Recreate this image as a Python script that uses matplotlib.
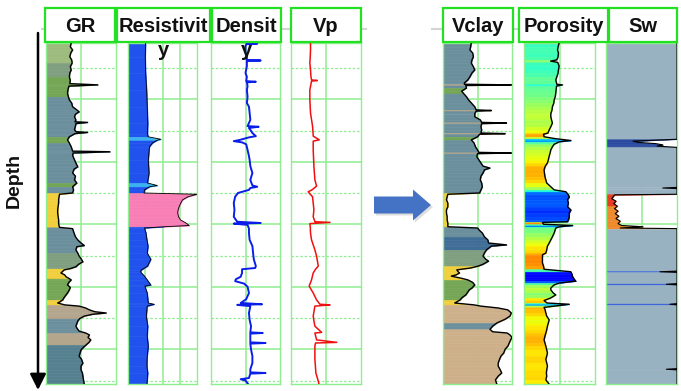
import numpy as np
import matplotlib.pyplot as plt
from matplotlib.patches import Rectangle, FancyArrow
from matplotlib.colors import ListedColormap
from matplotlib.ticker import NullLocator

plt.rcParams['font.family'] = ['Liberation Sans', 'DejaVu Sans']

W, H = 681, 391

# ---------------- data (depth in m) ----------------
gr_depth = [2010, 2016, 2021, 2026, 2032, 2037, 2042, 2048, 2053, 2058, 2064, 2070, 2075, 2077, 2079,
            2085, 2090, 2096, 2101, 2106, 2112, 2117, 2120, 2124, 2128, 2133, 2136, 2137, 2139, 2143,
            2149, 2152, 2153, 2155, 2157, 2160, 2165, 2170, 2176, 2181, 2183, 2184, 2186, 2190, 2197,
            2202, 2208, 2212, 2218, 2223, 2229, 2234, 2240, 2245, 2250, 2252, 2256, 2261, 2266, 2272,
            2277, 2282, 2288, 2293, 2298, 2303, 2305, 2307, 2314, 2320, 2325, 2330, 2334, 2336, 2341,
            2346, 2351, 2355, 2360, 2364, 2368, 2371, 2373, 2376, 2378, 2381, 2384, 2387, 2389, 2393,
            2397, 2401, 2405, 2410, 2413, 2418, 2421, 2424, 2426, 2429, 2431, 2434, 2437, 2440, 2442,
            2444, 2447, 2451, 2455, 2459, 2463, 2467, 2471, 2474, 2477, 2481, 2485, 2489, 2493, 2497,
            2501, 2506, 2511, 2516, 2522, 2527, 2533, 2538, 2543, 2548, 2556]
gr_val = [54, 52, 57, 53, 51, 55, 56, 52, 54, 51, 50, 52, 51, 111, 49,
          47, 46, 48, 50, 55, 57, 66, 71, 63, 61, 64, 62, 89, 64, 63,
          61, 65, 89, 62, 57, 50, 46, 50, 54, 56, 57, 137, 58, 57, 61,
          64, 68, 60, 57, 63, 61, 66, 57, 59, 57, 29, 28, 27, 27, 26,
          25, 25, 26, 27, 27, 28, 29, 57, 60, 63, 68, 75, 82, 66, 64,
          68, 71, 75, 79, 70, 64, 52, 39, 35, 32, 40, 43, 50, 54, 49,
          46, 52, 50, 46, 43, 38, 36, 30, 25, 40, 71, 85, 93, 105, 129,
          100, 82, 72, 68, 66, 64, 67, 71, 85, 93, 90, 96, 92, 86, 80,
          75, 73, 71, 76, 79, 75, 75, 78, 79, 80, 82]
gr_facies = [(2005, 2045, 'silt_l'), (2045, 2062, 'silt_d'), (2062, 2098, 'silt'), (2098, 2160, 'shale'),
             (2160, 2170, 'silt'), (2170, 2236, 'shale'), (2236, 2242, 'silt'), (2242, 2251, 'shale'),
             (2251, 2306, 'sand'), (2306, 2345, 'shale'), (2345, 2371, 'silt_d'), (2371, 2386, 'sand'),
             (2386, 2421, 'silt'), (2421, 2429, 'sand'), (2429, 2450, 'carb'), (2450, 2474, 'shale'),
             (2474, 2492, 'carb'), (2492, 2560, 'shale_d')]

res_depth = [2010, 2032, 2058, 2085, 2112, 2138, 2155, 2160, 2164, 2166, 2170, 2176, 2197, 2218, 2234,
             2238, 2240, 2245, 2250, 2252, 2256, 2261, 2266, 2272, 2277, 2282, 2288, 2293, 2298, 2302,
             2304, 2306, 2314, 2325, 2335, 2346, 2356, 2367, 2373, 2376, 2383, 2389, 2397, 2399, 2410,
             2426, 2428, 2431, 2447, 2463, 2479, 2495, 2511, 2527, 2538, 2556]
res_val = [2.1, 2.0, 2.1, 2.4, 2.6, 2.8, 2.7, 2.9, 16, 9, 5.2, 3.5, 3.0, 3.3, 2.7,
           10, 3.5, 1.8, 1.7, 2000, 600, 290, 230, 183, 160, 152, 170, 220, 460, 700,
           24, 1.8, 2.2, 2.5, 2.9, 2.6, 4.2, 2.7, 1.2, 1.05, 1.8, 2.6, 4.2, 1.9, 2.6,
           3.0, 6.6, 2.6, 2.3, 2.8, 2.6, 3.0, 2.6, 2.5, 2.8, 2.5]
res_facies = [(2005, 2160, 'res_lo'), (2160, 2168, 'res_mid'), (2168, 2236, 'res_lo'),
              (2236, 2242, 'res_mid'), (2242, 2251, 'res_lo'), (2251, 2305, 'res_hi'),
              (2305, 2560, 'res_lo')]

den_depth = [2010, 2011, 2012, 2016, 2026, 2032, 2037, 2038, 2039, 2047, 2058, 2064, 2071, 2072, 2073,
             2079, 2085, 2096, 2106, 2112, 2122, 2133, 2143, 2144, 2146, 2149, 2154, 2159, 2161, 2165,
             2167, 2169, 2172, 2181, 2191, 2197, 2207, 2218, 2229, 2238, 2240, 2242, 2245, 2250, 2256,
             2266, 2277, 2288, 2296, 2298, 2299, 2301, 2307, 2314, 2325, 2335, 2346, 2356, 2367, 2370,
             2372, 2378, 2384, 2388, 2391, 2395, 2400, 2410, 2420, 2426, 2428, 2429, 2431, 2442, 2453,
             2463, 2473, 2474, 2475, 2484, 2489, 2490, 2491, 2500, 2511, 2522, 2532, 2537, 2538, 2539,
             2546, 2548, 2550, 2556]
den_val = [2.47, 2.62, 2.46, 2.45, 2.45, 2.47, 2.47, 2.67, 2.47, 2.47, 2.45, 2.47, 2.46, 2.60, 2.47,
           2.48, 2.47, 2.48, 2.47, 2.50, 2.51, 2.52, 2.48, 2.64, 2.50, 2.52, 2.55, 2.60, 2.50, 2.37,
           2.28, 2.40, 2.46, 2.48, 2.50, 2.51, 2.52, 2.55, 2.52, 2.55, 2.62, 2.52, 2.50, 2.34, 2.30,
           2.28, 2.29, 2.28, 2.33, 2.67, 2.28, 2.48, 2.50, 2.50, 2.51, 2.55, 2.56, 2.57, 2.60, 2.59,
           2.40, 2.40, 2.38, 2.31, 2.30, 2.43, 2.48, 2.50, 2.46, 2.38, 2.69, 2.33, 2.52, 2.50, 2.51,
           2.53, 2.52, 2.70, 2.52, 2.52, 2.52, 2.74, 2.52, 2.53, 2.55, 2.55, 2.52, 2.52, 2.74, 2.52,
           2.50, 2.38, 2.45, 2.49]

vp_depth = [2010, 2021, 2032, 2042, 2053, 2064, 2069, 2070, 2071, 2085, 2101, 2122, 2143, 2154, 2159,
            2165, 2167, 2181, 2207, 2229, 2239, 2245, 2248, 2252, 2256, 2266, 2277, 2288, 2296, 2297,
            2299, 2304, 2314, 2325, 2341, 2351, 2367, 2372, 2378, 2389, 2399, 2410, 2421, 2428, 2429,
            2431, 2447, 2453, 2463, 2473, 2474, 2485, 2489, 2490, 2495, 2516, 2538, 2551, 2556]
vp_val = [3115, 3115, 3100, 3077, 3115, 3140, 3173, 3500, 3173, 3077, 3077, 3115, 3231, 3260, 3269,
          3615, 3269, 3269, 3308, 3365, 3462, 3200, 2981, 3100, 3231, 3269, 3308, 3269, 3365, 4231,
          3077, 3100, 3115, 3173, 3365, 3462, 3558, 3400, 3269, 3173, 3038, 3269, 3462, 3654, 4231,
          3365, 3269, 3300, 3365, 3750, 3365, 3462, 4615, 3400, 3365, 3365, 3423, 3558, 3600]

vcl_depth = [2010, 2016, 2021, 2026, 2032, 2037, 2042, 2048, 2053, 2058, 2064, 2069, 2074, 2076, 2077,
             2078, 2082, 2087, 2091, 2096, 2101, 2106, 2112, 2117, 2118, 2119, 2123, 2128, 2133, 2137,
             2138, 2139, 2144, 2149, 2154, 2155, 2156, 2160, 2165, 2170, 2176, 2181, 2185, 2186, 2187,
             2192, 2197, 2202, 2207, 2210, 2213, 2218, 2223, 2229, 2234, 2240, 2245, 2250, 2252, 2256,
             2261, 2266, 2272, 2277, 2282, 2288, 2293, 2298, 2304, 2306, 2310, 2314, 2320, 2325, 2330,
             2333, 2335, 2341, 2346, 2351, 2356, 2359, 2364, 2367, 2370, 2373, 2376, 2378, 2381, 2383,
             2386, 2389, 2393, 2397, 2402, 2405, 2410, 2413, 2418, 2421, 2424, 2426, 2429, 2431, 2434,
             2437, 2440, 2442, 2447, 2452, 2458, 2463, 2468, 2472, 2474, 2477, 2481, 2485, 2490, 2495,
             2500, 2506, 2511, 2516, 2522, 2527, 2533, 2538, 2543, 2549, 2556]
vcl_val = [0.41, 0.40, 0.39, 0.43, 0.44, 0.42, 0.41, 0.44, 0.46, 0.42, 0.39, 0.36, 0.31, 0.31, 0.99,
           0.33, 0.34, 0.27, 0.30, 0.34, 0.37, 0.41, 0.46, 0.48, 0.70, 0.48, 0.46, 0.46, 0.54, 0.56,
           0.92, 0.56, 0.55, 0.56, 0.55, 0.90, 0.53, 0.50, 0.41, 0.45, 0.47, 0.50, 0.52, 0.99, 0.50,
           0.49, 0.52, 0.55, 0.58, 0.68, 0.60, 0.58, 0.55, 0.54, 0.56, 0.57, 0.55, 0.53, 0.07, 0.06,
           0.05, 0.07, 0.07, 0.05, 0.05, 0.06, 0.06, 0.07, 0.07, 0.50, 0.53, 0.57, 0.60, 0.65, 0.66,
           0.92, 0.70, 0.63, 0.60, 0.58, 0.62, 0.66, 0.58, 0.51, 0.40, 0.20, 0.22, 0.24, 0.19, 0.12,
           0.25, 0.36, 0.43, 0.46, 0.42, 0.38, 0.35, 0.33, 0.27, 0.25, 0.20, 0.17, 0.45, 0.55, 0.80,
           0.94, 0.97, 0.99, 0.97, 0.90, 0.78, 0.72, 0.68, 0.72, 0.93, 0.97, 1.00, 0.98, 0.96, 0.94,
           0.90, 0.88, 0.84, 0.82, 0.80, 0.80, 0.83, 0.85, 0.80, 0.76, 0.78]
vcl_facies = [(2005, 2076, 'shale'), (2076, 2078, 'carb'), (2078, 2084, 'shale'), (2084, 2090, 'silt'),
              (2090, 2117, 'shale'), (2117, 2119, 'carb'), (2119, 2137, 'shale'), (2137, 2139, 'carb'),
              (2139, 2154, 'shale'), (2154, 2156, 'carb'), (2156, 2162, 'shale'), (2162, 2167, 'silt'),
              (2167, 2185, 'shale'), (2185, 2187, 'carb'), (2187, 2251, 'shale'), (2251, 2305, 'sand'),
              (2305, 2322, 'shale'), (2322, 2340, 'shale_b'), (2340, 2368, 'silt_d'), (2368, 2388, 'sand'),
              (2388, 2420, 'silt'), (2420, 2428, 'sand'), (2428, 2456, 'carb_l'), (2456, 2468, 'shale'),
              (2468, 2560, 'carb_l')]

phi_depth = [2010, 2016, 2021, 2026, 2032, 2037, 2039, 2041, 2047, 2053, 2058, 2064, 2069, 2076, 2077,
             2079, 2085, 2090, 2096, 2101, 2106, 2112, 2117, 2123, 2128, 2133, 2138, 2144, 2149, 2154,
             2156, 2160, 2163, 2166, 2168, 2172, 2176, 2181, 2186, 2191, 2197, 2202, 2207, 2213, 2218,
             2224, 2229, 2234, 2240, 2245, 2248, 2253, 2256, 2261, 2266, 2272, 2277, 2282, 2288, 2293,
             2296, 2297, 2300, 2302, 2304, 2306, 2314, 2320, 2325, 2330, 2335, 2341, 2346, 2349, 2355,
             2362, 2367, 2372, 2376, 2380, 2384, 2388, 2391, 2394, 2397, 2402, 2405, 2410, 2413, 2418,
             2422, 2426, 2428, 2430, 2433, 2436, 2442, 2447, 2453, 2458, 2463, 2469, 2474, 2479, 2485,
             2490, 2495, 2501, 2506, 2511, 2516, 2522, 2527, 2533, 2538, 2543, 2549, 2556]
phi_val = [0.198, 0.192, 0.189, 0.194, 0.192, 0.185, 0.150, 0.190, 0.198, 0.194, 0.192, 0.185, 0.179, 0.185, 0.217,
           0.183, 0.181, 0.179, 0.176, 0.170, 0.168, 0.160, 0.158, 0.151, 0.151, 0.155, 0.160, 0.151, 0.142, 0.135,
           0.110, 0.113, 0.175, 0.264, 0.200, 0.170, 0.160, 0.151, 0.147, 0.142, 0.137, 0.132, 0.120, 0.113, 0.115,
           0.118, 0.123, 0.128, 0.151, 0.170, 0.236, 0.250, 0.255, 0.245, 0.250, 0.245, 0.264, 0.255, 0.255, 0.250,
           0.245, 0.104, 0.110, 0.274, 0.200, 0.179, 0.170, 0.160, 0.151, 0.142, 0.132, 0.128, 0.123, 0.104, 0.104,
           0.104, 0.110, 0.113, 0.264, 0.270, 0.274, 0.283, 0.292, 0.200, 0.170, 0.151, 0.151, 0.165, 0.179, 0.150,
           0.113, 0.130, 0.255, 0.200, 0.113, 0.118, 0.123, 0.128, 0.142, 0.137, 0.132, 0.128, 0.123, 0.118, 0.113,
           0.118, 0.123, 0.128, 0.132, 0.128, 0.123, 0.128, 0.132, 0.128, 0.126, 0.128, 0.123, 0.142]

sw_depth = [2010, 2164, 2166, 2167, 2169, 2171, 2173, 2175, 2177, 2241, 2242, 2243, 2252, 2253, 2256,
            2259, 2263, 2267, 2271, 2275, 2279, 2283, 2287, 2291, 2295, 2299, 2302, 2304, 2306, 2307,
            2375, 2376, 2377, 2395, 2396, 2397, 2427, 2428, 2429, 2531, 2532, 2533, 2556]
sw_val = [1.0, 1.0, 0.60, 0.38, 0.45, 0.70, 0.80, 0.72, 1.0, 1.0, 0.80, 1.0, 1.0, 0.12, 0.10,
          0.08, 0.14, 0.11, 0.16, 0.12, 0.17, 0.13, 0.18, 0.14, 0.20, 0.17, 0.22, 0.52, 0.20, 1.0,
          1.0, 0.76, 1.0, 1.0, 0.85, 1.0, 1.0, 0.90, 1.0, 1.0, 0.85, 1.0, 1.0]
sw_facies = [(2005, 2164, 'water'), (2164, 2178, 'trace_d'), (2178, 2252, 'water'), (2252, 2272, 'oil'),
             (2272, 2307, 'oil_l'), (2307, 2375, 'water'), (2375, 2377, 'trace'), (2377, 2395, 'water'),
             (2395, 2397, 'trace'), (2397, 2427, 'water'), (2427, 2429, 'trace'), (2429, 2560, 'water')]

headers = ['GR', 'Resistivit\ny', 'Densit\ny', 'Vp', 'Vclay', 'Porosity', 'Sw']

fac_color = {'silt_l': '#9dbb7d', 'silt_d': '#7f9f80', 'silt': '#74a656', 'shale': '#6b8f9c',
             'shale_d': '#55808f', 'shale_b': '#3f6d96', 'sand': '#f1cf3b', 'carb': '#b3a58c',
             'carb_l': '#cdb08a', 'res_lo': '#2152ee', 'res_mid': '#39b2ef', 'res_hi': '#f77fb5',
             'water': '#98b2c2', 'trace_d': '#2a4aa0', 'trace': '#3d66dc', 'oil': '#e63c1e',
             'oil_l': '#ee8a2c'}

GRID = '#8fee8f'
TOP, BOT = 2010, 2555.6

fig = plt.figure(figsize=(W / 100, H / 100), dpi=100)


def track(x0, x1, xlim, xgrid, log=False):
    ax = fig.add_axes([x0 / W, 1 - 384 / H, (x1 - x0) / W, 341 / H])
    if log:
        ax.set_xscale('log')
    ax.set_xlim(*xlim)
    ax.set_ylim(BOT, TOP)
    ax.set_xticks(xgrid)
    ax.xaxis.set_minor_locator(NullLocator())
    ax.set_yticks(np.arange(2100, 2550, 100))
    ax.set_yticks(np.arange(2050, 2600, 100), minor=True)
    ax.tick_params(which='both', length=0, labelbottom=False, labelleft=False)
    ax.set_axisbelow(True)
    ax.grid(axis='x', which='major', color=GRID, lw=1.1)
    ax.grid(axis='y', which='major', color=GRID, lw=1.1)
    ax.grid(axis='y', which='minor', color=GRID, lw=0.9, ls=(0, (2, 1.5)))
    for s in ax.spines.values():
        s.set_color(GRID)
        s.set_linewidth(1.0)
    return ax


def facies_at(facies, d):
    for top, bot, name in facies:
        if top <= d < bot:
            return fac_color[name]
    return 'white'


def fill_log(ax, depth, val, left, colfun):
    for i in range(len(depth) - 1):
        c = colfun(i)
        ax.fill_betweenx([depth[i], depth[i + 1]], left, [val[i], val[i + 1]],
                         color=c, ec=c, lw=0.4, zorder=1)


def fill_facies(ax, depth, val, left, facies):
    fill_log(ax, depth, val, left,
             lambda i: facies_at(facies, 0.5 * (depth[i] + depth[i + 1])))


# GR
ax = track(46, 116, (0, 150), [75])
fill_facies(ax, gr_depth, gr_val, 0, gr_facies)
ax.plot(gr_val, gr_depth, color='black', lw=1.0, zorder=3)

# Resistivity
ax = track(128, 197, (0.2, 2000), [2, 20, 200], log=True)
fill_facies(ax, res_depth, res_val, 0.2, res_facies)
ax.plot(res_val, res_depth, color='black', lw=0.6, zorder=3)

# Density
ax = track(211, 280, (1.95, 2.95), [2.45])
ax.plot(den_val, den_depth, color='#0a1ee8', lw=1.4, zorder=3)

# Vp
ax = track(291, 361, (2000, 6000), [4000])
ax.plot(vp_val, vp_depth, color='#f01010', lw=1.1, zorder=3)

# Vclay
ax = track(443, 512, (0, 1), [0.5])
fill_facies(ax, vcl_depth, vcl_val, 0, vcl_facies)
ax.plot(vcl_val, vcl_depth, color='black', lw=1.0, zorder=3)

# Porosity, coloured by value (jet, blue to orange)
ax = track(524, 595, (0, 0.4), [0.2])
cmap = ListedColormap(plt.get_cmap('jet')(np.linspace(0.78, 0.13, 256)))
norm = plt.Normalize(0.10, 0.27, clip=True)
fill_log(ax, phi_depth, phi_val, 0,
         lambda i: cmap(norm(0.5 * (phi_val[i] + phi_val[i + 1]))))
ax.plot(phi_val, phi_depth, color='black', lw=1.0, zorder=3)

# Sw
ax = track(606, 677, (0, 1), [0.5])
fill_facies(ax, sw_depth, sw_val, 0, sw_facies)
ax.plot(sw_val, sw_depth, color='black', lw=0.8, zorder=3)

# ---------------- overlay: headers, arrows, labels ----------------
ov = fig.add_axes([0, 0, 1, 1], zorder=10)
ov.set_xlim(0, W)
ov.set_ylim(H, 0)
ov.axis('off')

ov.plot([42, 366], [29, 29], color='#d4d4d4', lw=1.5, zorder=1)
ov.plot([432, 610], [29, 29], color='#d4d4d4', lw=1.5, zorder=1)

boxes = [(45, 115), (117, 210), (212, 281), (291, 361), (443, 513), (519, 608), (609, 677)]
for (x0, x1), name in zip(boxes, headers):
    ov.add_patch(Rectangle((x0, 8), x1 - x0, 34, facecolor='white', edgecolor='#22e022', lw=1.6, zorder=2))
    ov.text((x0 + x1) / 2, 17.5, name, ha='center', va='top', multialignment='center',
            fontsize=14.5, fontweight='bold', linespacing=1.3, color='#111111', zorder=3)

ov.annotate('', xy=(38, 390), xytext=(38, 33),
            arrowprops=dict(arrowstyle='-|>', color='black', lw=1.8, mutation_scale=24, shrinkA=0, shrinkB=0))
ov.text(14, 180, 'Depth', rotation=90, ha='center', va='center', fontsize=14, fontweight='bold', color='#111111')

ov.add_patch(FancyArrow(376, 207, 57, 0, width=17, head_width=31, head_length=18,
                        length_includes_head=True, color='#c8c8c8', alpha=0.6, lw=0))
ov.add_patch(FancyArrow(374, 205, 57, 0, width=17, head_width=31, head_length=18,
                        length_includes_head=True, color='#4472c4', lw=0))

fig.savefig('out.png', dpi=100)
